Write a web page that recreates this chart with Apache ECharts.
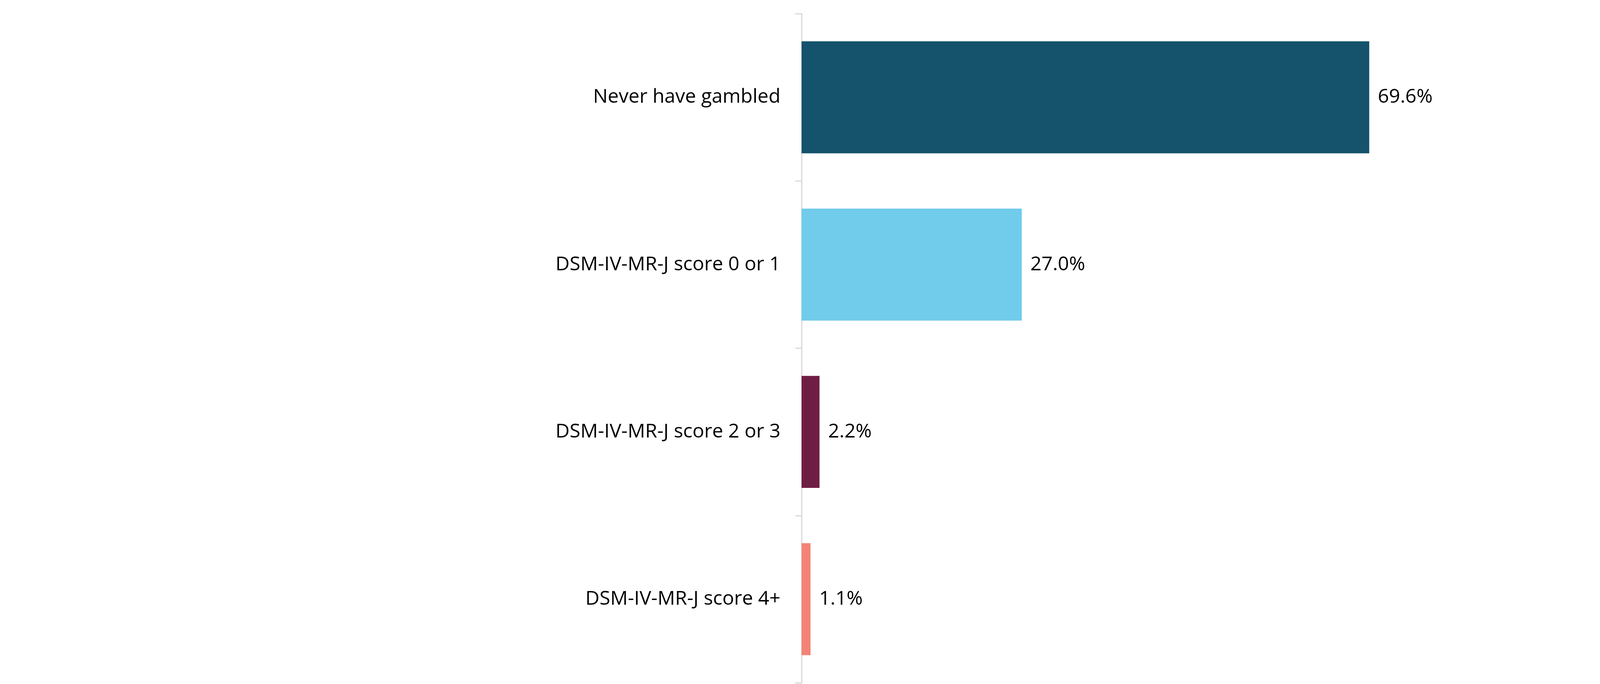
<!DOCTYPE html>
<html>
<head>
<meta charset="utf-8">
<script src="https://cdn.jsdelivr.net/npm/echarts@6/dist/echarts.min.js"></script>
<style>
html,body{margin:0;padding:0;background:#fff;}
#chart{width:4170px;height:1751px;}
</style>
</head>
<body>
<div id="chart"></div>
<script>
const categories = ["Never have gambled", "DSM-IV-MR-J score 0 or 1", "DSM-IV-MR-J score 2 or 3", "DSM-IV-MR-J score 4+"];
const values = [69.6, 27.0, 2.2, 1.1];
const barColors = ["#15526B", "#71CBEB", "#6F1E43", "#F38377"];

const chart = echarts.init(document.getElementById('chart'));
chart.setOption({
  backgroundColor: '#ffffff',
  animation: false,
  grid: { left: 2052, right: 30, top: 35, bottom: 3, containLabel: false },
  xAxis: {
    type: 'value', min: 0, max: 100, show: false
  },
  yAxis: {
    type: 'category',
    inverse: true,
    data: categories,
    axisLine: { show: true, lineStyle: { color: '#d9d9d9', width: 3 } },
    axisTick: { show: true, length: 16, lineStyle: { color: '#d9d9d9', width: 3 } },
    axisLabel: { color: '#000000', fontSize: 50, fontFamily: 'Open Sans', margin: 54 },
    splitLine: { show: false }
  },
  series: [{
    type: 'bar',
    data: values.map((v, i) => ({ value: v, itemStyle: { color: barColors[i] } })),
    barCategoryGap: '33%',
    label: {
      show: true, position: 'right', distance: 22,
      color: '#000000', fontSize: 50, fontFamily: 'Open Sans',
      formatter: p => p.value.toFixed(1) + '%'
    }
  }]
});
</script>
</body>
</html>
